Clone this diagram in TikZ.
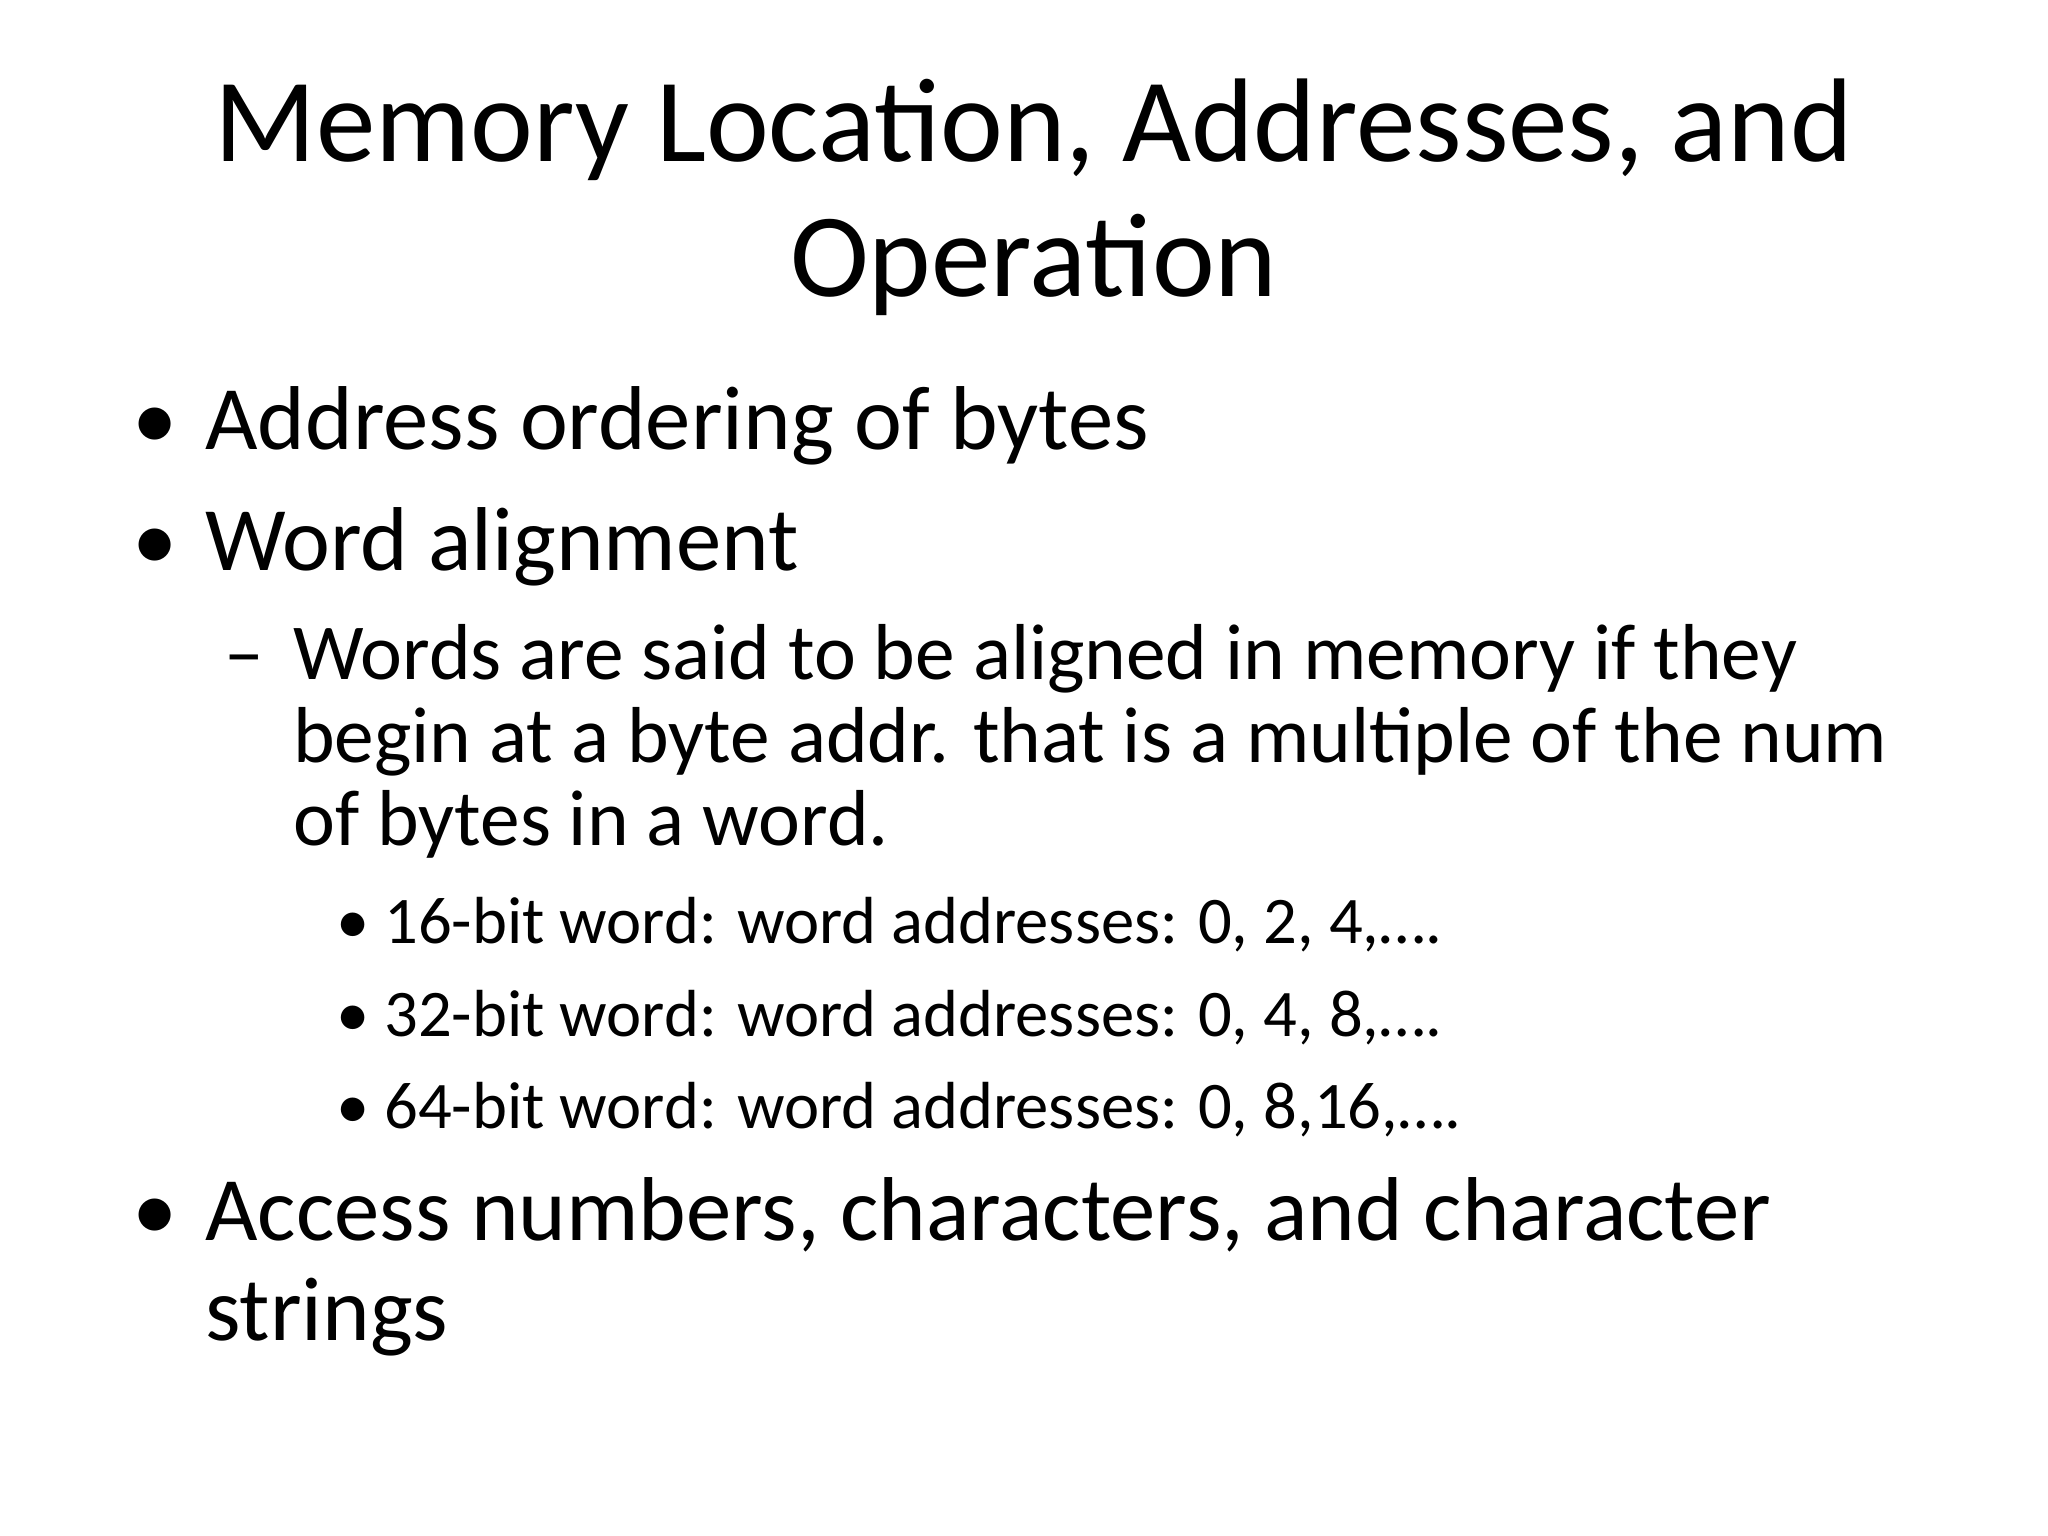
\documentclass[tikz,border=0pt]{standalone}
\usepackage{fontspec}
\setmainfont{Carlito}
\begin{document}
\begin{tikzpicture}[
  t/.style={anchor=base west,inner sep=0pt},
  ti/.style={anchor=base,inner sep=0pt,font=\fontsize{42}{50}\selectfont},
  la/.style={t,font=\fontsize{32}{38}\selectfont},
  lb/.style={t,font=\fontsize{28}{34}\selectfont},
  lc/.style={t,font=\fontsize{23.5}{28}\selectfont}]
\useasboundingbox (0,0) rectangle (25.4,-19.05);
\node[ti] (t1) at (12.82,-2.0) {Memory Location, Addresses, and};
\node[ti] (t2) at (12.82,-3.68) {Operation};
\node[la] (b1) at (1.64,-5.57) {•};
\node[la] (a1) at (2.54,-5.57) {Address ordering of bytes};
\node[la] (b2) at (1.64,-7.07) {•};
\node[la] (a2) at (2.54,-7.07) {Word alignment};
\node[lb] (d1) at (2.78,-8.43) {–};
\node[lb] (w1) at (3.63,-8.43) {Words are said to be aligned in memory if they};
\node[lb] (w2) at (3.63,-9.46) {begin at a byte addr. that is a multiple of the num};
\node[lb] (w3) at (3.63,-10.48) {of bytes in a word.};
\node[lc] (c1) at (4.17,-11.70) {•};
\node[lc] (s1) at (4.76,-11.70) {16-bit word: word addresses: 0, 2, 4,….};
\node[lc] (c2) at (4.17,-12.85) {•};
\node[lc] (s2) at (4.76,-12.85) {32-bit word: word addresses: 0, 4, 8,….};
\node[lc] (c3) at (4.17,-14.00) {•};
\node[lc] (s3) at (4.76,-14.00) {64-bit word: word addresses: 0, 8,16,….};
\node[la] (b3) at (1.64,-15.39) {•};
\node[la] (a3) at (2.54,-15.39) {Access numbers, characters, and character};
\node[la] (a4) at (2.54,-16.62) {strings};
\end{tikzpicture}
\end{document}
